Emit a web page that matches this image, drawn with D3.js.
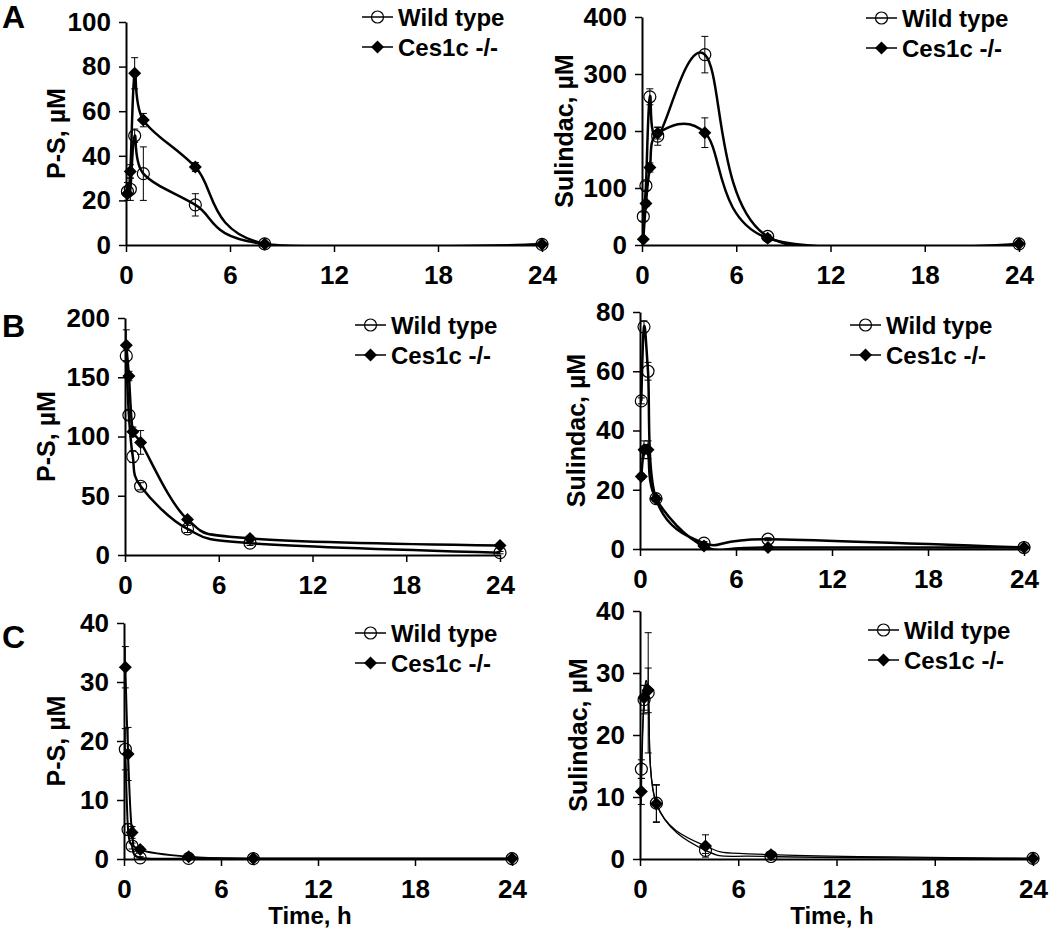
<!DOCTYPE html>
<html lang="en">
<head>
  <meta charset="UTF-8" />
  <title>P-S and Sulindac, wild type vs Ces1c -/-</title>
  <script src="https://d3js.org/d3.v7.min.js"></script>
  <style>
    body {
      margin: 0;
      background-color: #fff;
    }

    svg {
      display: block;
      font-family: "Liberation Sans", Arial, sans-serif;
      font-weight: bold;
    }
  </style>
</head>
<body>

<svg id="chart" width="1050" height="933"></svg>

<script>
  // sampling times, h
  const times = [0.083, 0.25, 0.5, 1, 4, 8, 24];
  const xTicks = [0, 6, 12, 18, 24];
  const seriesNames = ["Wild type", "Ces1c -/-"];

  // row A
  const aPsWt = [24, 25, 49, 32, 18, 0.5, 0.3];
  const aPsWtErr = [4, 5, 3, 12, 5, 0.5, 0.3];
  const aPsKo = [23, 33, 77, 56, 35, 0.5, 0.3];
  const aPsKoErr = [3, 3, 7, 3, 2, 0.5, 0.3];
  const aSulWt = [50, 104, 260, 191, 334, 15, 2];
  const aSulWtErr = [8, 8, 14, 16, 32, 3, 1];
  const aSulKo = [10, 73, 136, 196, 197, 12, 2];
  const aSulKoErr = [3, 5, 8, 10, 26, 3, 1];

  // row B
  const bPsWt = [168, 118, 83, 58, 22, 10, 2];
  const bPsWtErr = [5, 4, 5, 3, 3, 2, 1];
  const bPsKo = [177, 151, 104, 95, 30, 14, 8];
  const bPsKoErr = [13, 4, 4, 10, 2, 2, 1];
  const bSulWt = [50, 75, 60, 17, 2, 3.3, 0.5];
  const bSulWtErr = [1, 2, 3, 1, 0.5, 0.5, 0.2];
  const bSulKo = [24.5, 33.5, 33.5, 17, 1, 0.5, 0.5];
  const bSulKoErr = [1, 3, 3, 1, 0.5, 0.2, 0.2];

  // row C
  const cPsWt = [18.6, 5, 2.2, 0.2, 0.1, 0.05, 0.05];
  const cPsWtErr = [3.5, 1, 0.5, 0.2, 0.1, 0.05, 0.05];
  const cPsKo = [32.5, 17.8, 4.5, 1.6, 0.4, 0.1, 0.1];
  const cPsKoErr = [3.5, 4.5, 1, 0.5, 0.2, 0.1, 0.1];
  const cSulWt = [14.5, 25.7, 26.8, 9, 1.4, 0.4, 0.1];
  const cSulWtErr = [1.5, 2.3, 9.7, 3, 0.5, 0.2, 0.1];
  const cSulKo = [10.9, 26, 27.2, 8.9, 2.1, 0.7, 0.1];
  const cSulKoErr = [2.1, 2, 3.6, 3, 1.8, 0.3, 0.1];

  const yTicksA1 = [0, 20, 40, 60, 80, 100];
  const yTicksA2 = [0, 100, 200, 300, 400];
  const yTicksB1 = [0, 50, 100, 150, 200];
  const yTicksB2 = [0, 20, 40, 60, 80];
  const yTicksC = [0, 10, 20, 30, 40];

  const panels = [
    { x0: 126, x1: 542, y0: 245, y1: 22, ticks: yTicksA1, title: "P-S, µM", titleX: 65,
      wt: aPsWt, wtErr: aPsWtErr, ko: aPsKo, koErr: aPsKoErr, lw: 2.5,
      legX: 362, legY: 17 },
    { x0: 642, x1: 1019, y0: 245, y1: 17, ticks: yTicksA2, title: "Sulindac, µM", titleX: 573,
      wt: aSulWt, wtErr: aSulWtErr, ko: aSulKo, koErr: aSulKoErr, lw: 2.5,
      legX: 866, legY: 18 },
    { x0: 125, x1: 500, y0: 555, y1: 318, ticks: yTicksB1, title: "P-S, µM", titleX: 55,
      wt: bPsWt, wtErr: bPsWtErr, ko: bPsKo, koErr: bPsKoErr, lw: 2.5,
      legX: 355, legY: 325 },
    { x0: 640, x1: 1024, y0: 549, y1: 312, ticks: yTicksB2, title: "Sulindac, µM", titleX: 585,
      wt: bSulWt, wtErr: bSulWtErr, ko: bSulKo, koErr: bSulKoErr, lw: 2.5,
      legX: 850, legY: 325 },
    { x0: 124, x1: 512, y0: 859, y1: 623, ticks: yTicksC, title: "P-S, µM", titleX: 65,
      wt: cPsWt, wtErr: cPsWtErr, ko: cPsKo, koErr: cPsKoErr, lw: 2,
      legX: 355, legY: 633, xTitleX: 310 },
    { x0: 640, x1: 1033, y0: 859, y1: 611, ticks: yTicksC, title: "Sulindac, µM", titleX: 587,
      wt: cSulWt, wtErr: cSulWtErr, ko: cSulKo, koErr: cSulKoErr, lw: 1.3,
      legX: 868, legY: 630, xTitleX: 832 }
  ];

  const svg = d3.select("#chart");
  const defs = svg.append("defs");

  const diamond = r => `M0,${-r}L${r},0L0,${r}L${-r},0Z`;

  function drawPanel(p, idx) {
    const x = d3.scaleLinear().domain([0, 24]).range([p.x0, p.x1]);
    const y = d3.scaleLinear().domain([0, d3.max(p.ticks)]).range([p.y0, p.y1]);
    const g = svg.append("g");

    // lines are cut at the x axis like the plot area of the original
    defs.append("clipPath").attr("id", "clip" + idx)
      .append("rect")
      .attr("x", p.x0 - 10).attr("y", 0)
      .attr("width", p.x1 - p.x0 + 20).attr("height", p.y0);

    const yAxis = g.append("g")
      .attr("transform", `translate(${p.x0},0)`)
      .call(d3.axisLeft(y).tickValues(p.ticks).tickSize(7).tickPadding(8).tickSizeOuter(0));
    const xAxis = g.append("g")
      .attr("transform", `translate(0,${p.y0})`)
      .call(d3.axisBottom(x).tickValues(xTicks).tickSize(7).tickPadding(14).tickSizeOuter(0));

    [xAxis, yAxis].forEach(a => {
      a.select(".domain").attr("stroke", "#000").attr("stroke-width", 2);
      a.selectAll(".tick line").attr("stroke", "#000").attr("stroke-width", 1.5);
      a.selectAll(".tick text")
        .attr("fill", "#000")
        .style("font-size", "26px")
        .style("font-family", "'Liberation Sans', Arial, sans-serif")
        .style("font-weight", "bold");
    });

    g.append("text")
      .attr("transform", `translate(${p.titleX},${(p.y0 + p.y1) / 2}) rotate(-90)`)
      .attr("text-anchor", "middle")
      .style("font-size", "25px")
      .text(p.title);

    if (p.xTitleX) {
      g.append("text")
        .attr("x", p.xTitleX)
        .attr("y", p.y0 + 65)
        .attr("text-anchor", "middle")
        .style("font-size", "24px")
        .text("Time, h");
    }

    const line = d3.line()
      .x((d, i) => x(times[i]))
      .y(d => y(d))
      .curve(d3.curveCatmullRom.alpha(0));

    const series = [
      { v: p.wt, e: p.wtErr, kind: "wt" },
      { v: p.ko, e: p.koErr, kind: "ko" }
    ];

    series.forEach(s => {
      // error bars
      const eb = g.append("g").attr("stroke", "#000").attr("stroke-width", 1);
      s.v.forEach((v, i) => {
        const cx = x(times[i]);
        const top = y(v + s.e[i]);
        const bot = y(Math.max(0, v - s.e[i]));
        eb.append("line").attr("x1", cx).attr("x2", cx).attr("y1", top).attr("y2", bot);
        eb.append("line").attr("x1", cx - 3.5).attr("x2", cx + 3.5).attr("y1", top).attr("y2", top);
        eb.append("line").attr("x1", cx - 3.5).attr("x2", cx + 3.5).attr("y1", bot).attr("y2", bot);
      });
    });

    series.forEach(s => {
      g.append("path")
        .datum(s.v)
        .attr("d", line)
        .attr("clip-path", `url(#clip${idx})`)
        .attr("fill", "none")
        .attr("stroke", "#000")
        .attr("stroke-width", p.lw);
    });

    series.forEach(s => {
      const m = g.append("g");
      s.v.forEach((v, i) => {
        if (s.kind === "wt") {
          m.append("circle")
            .attr("cx", x(times[i])).attr("cy", y(v)).attr("r", 6)
            .attr("fill", "none").attr("stroke", "#000").attr("stroke-width", 1.2);
        } else {
          m.append("path")
            .attr("transform", `translate(${x(times[i])},${y(v)})`)
            .attr("d", diamond(6.5))
            .attr("fill", "#000");
        }
      });
    });

    // legend
    const leg = g.append("g").attr("transform", `translate(${p.legX},${p.legY})`);
    seriesNames.forEach((name, i) => {
      const row = leg.append("g").attr("transform", `translate(0,${i * 30})`);
      row.append("line").attr("x1", 0).attr("x2", 31).attr("y1", 0).attr("y2", 0)
        .attr("stroke", "#000").attr("stroke-width", 1.5);
      if (i === 0) {
        row.append("circle").attr("cx", 15.5).attr("cy", 0).attr("r", 6)
          .attr("fill", "none").attr("stroke", "#000").attr("stroke-width", 1.2);
      } else {
        row.append("path").attr("transform", "translate(15.5,0)").attr("d", diamond(6.5)).attr("fill", "#000");
      }
      row.append("text").attr("x", 36).attr("y", 0).attr("dy", "0.36em")
        .style("font-size", "24px").text(name);
    });
  }

  panels.forEach(drawPanel);

  [["A", 28], ["B", 337], ["C", 648]].forEach(([t, yy]) => {
    svg.append("text").attr("x", 2).attr("y", yy).style("font-size", "32px").text(t);
  });
</script>

</body>
</html>
